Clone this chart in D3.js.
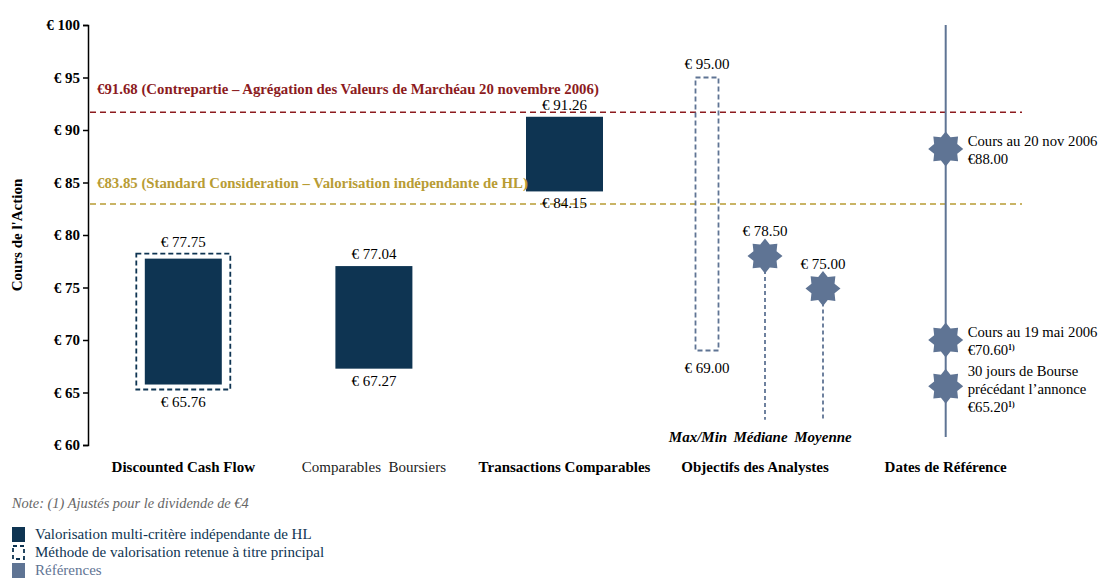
<!DOCTYPE html>
<html>
<head>
<meta charset="utf-8">
<title>Cours de l'Action</title>
<script src="https://d3js.org/d3.v7.min.js"></script>
<style>
  body { margin: 0; background: #fff; }
  svg, svg text { font-family: "Liberation Serif", "DejaVu Serif", serif; }
  .axis path, .axis line { stroke: #000; stroke-width: 1.5; }
  .axis text { font-size: 15px; font-weight: bold; fill: #000; font-family: "Liberation Serif", serif; }
</style>
</head>
<body>
<svg width="1099" height="579"></svg>
<script>
// categories along the bottom
var categories = ["Discounted Cash Flow", "Comparables  Boursiers", "Transactions Comparables", "Objectifs des Analystes", "Dates de Référence"];
var categoryBold = [true, false, true, true, true];

// valuation ranges (low, high)
var rangeCats = ["Discounted Cash Flow", "Comparables  Boursiers", "Transactions Comparables"];
var rangeLow = [65.76, 67.27, 84.15];
var rangeHigh = [77.75, 77.04, 91.26];
var rangeMain = [true, false, false];

// analysts
var analystLabels = ["Max/Min", "Médiane", "Moyenne"];
var analystMax = 95.00, analystMin = 69.00;
var analystPoints = [78.0, 74.9];       // drawn positions of median / mean
var analystText = ["€ 78.50", "€ 75.00"];

// reference dates
var refValues = [88.2, 70.0, 65.6];       // drawn positions
var refText = [
  ["Cours au 20 nov 2006", "€88.00"],
  ["Cours au 19 mai 2006", "€70.60"],
  ["30 jours de Bourse", "précédant l’annonce", "€65.20"]
];
var refFootnote = [false, true, true];

// horizontal reference lines
var refLineValues = [91.68, 82.95];
var refLineText = ["€91.68 (Contrepartie – Agrégation des Valeurs de Marchéau 20 novembre 2006)",
                   "€83.85 (Standard Consideration – Valorisation indépendante de HL)"];
var refLineColors = ["#8c1b1e", "#b89c34"];

var yTicks = [60, 65, 70, 75, 80, 85, 90, 95, 100];

var navy = "#0e3452", steel = "#5f7494";

var svg = d3.select("svg");

var y = d3.scaleLinear().domain([60, 100]).range([445, 25]);
var x = d3.scalePoint().domain(categories).range([88, 1041]).padding(0.5);
var xa = d3.scalePoint().domain(analystLabels).range([707, 823]);
var xaLabel = d3.scalePoint().domain(analystLabels).range([698, 823]);
var barW = 77;

// y axis
svg.append("g")
  .attr("class", "axis")
  .attr("transform", "translate(88,0)")
  .call(d3.axisLeft(y).tickValues(yTicks).tickSizeOuter(0).tickSize(5).tickPadding(3)
    .tickFormat(function(d) { return "€ " + d; }))
  .attr("font-family", null);

svg.append("text")
  .attr("transform", "translate(22,235) rotate(-90)")
  .attr("text-anchor", "middle")
  .style("font-size", "15px").style("font-weight", "bold")
  .text("Cours de l'Action");

// reference lines
refLineValues.forEach(function(v, i) {
  svg.append("line")
    .attr("x1", 90).attr("x2", 1022)
    .attr("y1", y(v)).attr("y2", y(v))
    .attr("stroke", refLineColors[i]).attr("stroke-width", 1.5)
    .attr("stroke-dasharray", "6,4");
});

// range bars
rangeCats.forEach(function(c, i) {
  var cx = x(c);
  if (rangeMain[i]) {
    svg.append("rect")
      .attr("x", cx - barW / 2 - 8.5).attr("y", y(rangeHigh[i]) - 5)
      .attr("width", barW + 17).attr("height", y(rangeLow[i]) - y(rangeHigh[i]) + 10)
      .attr("fill", "none").attr("stroke", navy).attr("stroke-width", 1.8)
      .attr("stroke-dasharray", "5,3");
  }
  svg.append("rect")
    .attr("x", cx - barW / 2).attr("y", y(rangeHigh[i]))
    .attr("width", barW).attr("height", y(rangeLow[i]) - y(rangeHigh[i]))
    .attr("fill", navy);
  var off = rangeMain[i] ? 5 : 0;
  svg.append("text").attr("x", cx).attr("y", y(rangeHigh[i]) - off - 7)
    .attr("text-anchor", "middle").style("font-size", "15px")
    .text("€ " + rangeHigh[i].toFixed(2));
  svg.append("text").attr("x", cx).attr("y", y(rangeLow[i]) + off + 17)
    .attr("text-anchor", "middle").style("font-size", "15px")
    .text("€ " + rangeLow[i].toFixed(2));
});

// reference line texts (drawn over the bars)
svg.append("text").attr("x", 97).attr("y", 94)
  .attr("fill", refLineColors[0]).style("font-size", "14.8px").style("font-weight", "bold")
  .text(refLineText[0]);
svg.append("text").attr("x", 97).attr("y", 188)
  .attr("fill", refLineColors[1]).style("font-size", "14.8px").style("font-weight", "bold")
  .text(refLineText[1]);

// 8-point star
function starPath(R, r) {
  var pts = d3.range(16).map(function(k) {
    var a = k * Math.PI / 8;
    var rad = k % 2 === 0 ? R : r;
    return [a, rad];
  });
  return d3.lineRadial().curve(d3.curveLinearClosed)(pts);
}
var star = starPath(17.5, 12.5);

// analysts: max/min box
var mx = xa("Max/Min");
svg.append("rect")
  .attr("x", mx - 11.5).attr("y", y(analystMax))
  .attr("width", 23).attr("height", y(analystMin) - y(analystMax))
  .attr("fill", "none").attr("stroke", steel).attr("stroke-width", 1.8)
  .attr("stroke-dasharray", "5,3");
svg.append("text").attr("x", mx).attr("y", y(analystMax) - 9)
  .attr("text-anchor", "middle").style("font-size", "15px").text("€ " + analystMax.toFixed(2));
svg.append("text").attr("x", mx).attr("y", y(analystMin) + 22)
  .attr("text-anchor", "middle").style("font-size", "15px").text("€ " + analystMin.toFixed(2));

analystPoints.forEach(function(v, i) {
  var px = xa(analystLabels[i + 1]);
  svg.append("line")
    .attr("x1", px).attr("x2", px).attr("y1", y(v)).attr("y2", y(62.4))
    .attr("stroke", steel).attr("stroke-width", 1.8).attr("stroke-dasharray", "4,3");
  svg.append("path").attr("d", star)
    .attr("transform", "translate(" + px + "," + y(v) + ")")
    .attr("fill", steel);
  svg.append("text").attr("x", px).attr("y", y(v) - 20)
    .attr("text-anchor", "middle").style("font-size", "15px").text(analystText[i]);
});

svg.selectAll(".alab").data(analystLabels).enter().append("text")
  .attr("x", function(d) { return xaLabel(d); }).attr("y", 442)
  .attr("text-anchor", "middle")
  .style("font-size", "15px").style("font-weight", "bold").style("font-style", "italic")
  .text(function(d) { return d; });

// reference dates
var dx = x("Dates de Référence");
svg.append("line")
  .attr("x1", dx).attr("x2", dx).attr("y1", y(100)).attr("y2", 437)
  .attr("stroke", steel).attr("stroke-width", 2);
refValues.forEach(function(v, i) {
  svg.append("path").attr("d", star)
    .attr("transform", "translate(" + dx + "," + y(v) + ")")
    .attr("fill", steel);
  var lines = refText[i];
  var y0 = lines.length > 2 ? y(v) - 10 : y(v) - 3;
  lines.forEach(function(t, j) {
    var tx = svg.append("text").attr("x", dx + 22).attr("y", y0 + j * 18)
      .style("font-size", "14.7px").text(t);
    if (refFootnote[i] && j === lines.length - 1) {
      tx.append("tspan").attr("dy", -5).style("font-size", "8px").style("font-weight", "bold").text("1)");
    }
  });
});

// category labels
svg.selectAll(".clab").data(categories).enter().append("text")
  .attr("x", function(d) { return x(d); }).attr("y", 472)
  .attr("text-anchor", "middle")
  .attr("xml:space", "preserve")
  .style("white-space", "pre")
  .style("font-size", "15px")
  .style("font-weight", function(d, i) { return categoryBold[i] ? "bold" : "normal"; })
  .attr("fill", function(d, i) { return categoryBold[i] ? "#000" : "#222"; })
  .text(function(d) { return d; });

// note
svg.append("text").attr("x", 12).attr("y", 508)
  .attr("fill", "#666").style("font-size", "14.4px").style("font-style", "italic")
  .text("Note: (1) Ajustés pour le dividende de €4");

// legend
var legendText = ["Valorisation multi-critère indépendante de HL", "Méthode de valorisation retenue à titre principal", "Références"];
var legendColor = [navy, navy, steel];
legendText.forEach(function(t, i) {
  var ly = 527 + i * 18;
  if (i === 1) {
    svg.append("rect").attr("x", 13).attr("y", ly + 1).attr("width", 11).attr("height", 13)
      .attr("fill", "none").attr("stroke", navy).attr("stroke-width", 1.8).attr("stroke-dasharray", "4,3");
  } else {
    svg.append("rect").attr("x", 12).attr("y", ly).attr("width", 13).attr("height", 15)
      .attr("fill", legendColor[i]);
  }
  svg.append("text").attr("x", 35).attr("y", ly + 12)
    .attr("fill", legendColor[i]).style("font-size", "15px").text(t);
});
</script>
</body>
</html>
